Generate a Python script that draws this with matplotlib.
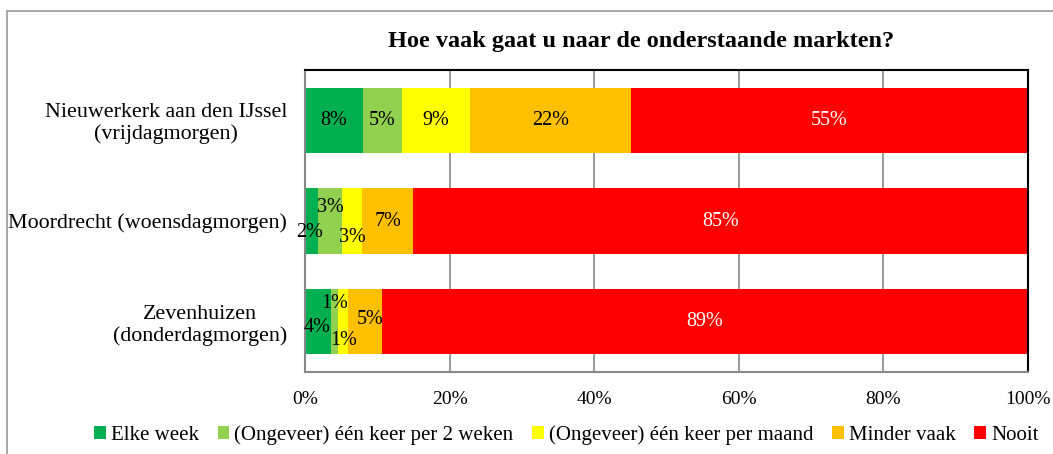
import matplotlib.pyplot as plt
from matplotlib.patches import Rectangle
from matplotlib.ticker import FuncFormatter

# data (percentages)
markets = ["Nieuwerkerk aan den IJssel\n(vrijdagmorgen)",
           "Moordrecht (woensdagmorgen)",
           "Zevenhuizen\n(donderdagmorgen)"]
series = ["Elke week", "(Ongeveer) één keer per 2 weken",
          "(Ongeveer) één keer per maand", "Minder vaak", "Nooit"]
elke_week = [8.0, 1.8, 3.6]
per_2_weken = [5.4, 3.3, 1.0]
per_maand = [9.4, 2.8, 1.4]
minder_vaak = [22.3, 7.1, 4.6]
nooit = [54.9, 85.0, 89.4]
values = [elke_week, per_2_weken, per_maand, minder_vaak, nooit]

colors = ["#00b050", "#92d050", "#ffff00", "#ffc000", "#ff0000"]
text_colors = ["black", "black", "black", "black", "white"]
# manual shifts of the small labels (dx in %, dy in bar units), like in the original
label_shift = {(1, 0): (-0.3, 0.11), (1, 1): (0, -0.13), (1, 2): (0, 0.16),
               (2, 0): (-0.2, 0.06), (2, 1): (0, -0.18), (2, 2): (0, 0.19),
               (2, 3): (0.7, -0.02)}

serif = ['Liberation Serif', 'DejaVu Serif']
plt.rcParams['font.family'] = serif

fig = plt.figure(figsize=(10.53, 4.54), dpi=100)
ax = fig.add_axes([305 / 1053, 1 - 372 / 454, 723 / 1053, 302 / 454])

y = list(range(len(markets)))
left = [0.0] * len(markets)
for s, vals in enumerate(values):
    ax.barh(y, vals, left=left, height=0.65, color=colors[s], label=series[s], zorder=2)
    for i, v in enumerate(vals):
        dx, dy = label_shift.get((i, s), (0, 0))
        ax.text(left[i] + v / 2 + dx, i + dy, "%.0f%%" % v, ha='center', va='center',
                fontsize=14.5, color=text_colors[s], zorder=3)
    left = [l + v for l, v in zip(left, vals)]

ax.set_xlim(0, 100)
ax.set_ylim(2.5, -0.5)
ax.set_xticks([0, 20, 40, 60, 80, 100])
ax.xaxis.set_major_formatter(FuncFormatter(lambda x, p: "%d%%" % x))
ax.set_yticks(y)
ax.set_yticklabels(markets, fontsize=15.8, multialignment='center', linespacing=1.15)
ax.tick_params(axis='x', length=0, labelsize=14, pad=14)
ax.tick_params(axis='y', length=0, pad=13)
ax.grid(axis='x', color='#888888', linewidth=1.2, zorder=0)
for side in ['top', 'right']:
    ax.spines[side].set_color('black')
    ax.spines[side].set_linewidth(1.5)
for side in ['left', 'bottom']:
    ax.spines[side].set_color('#888888')
    ax.spines[side].set_linewidth(1.5)

fig.text(641 / 1053, 1 - 42 / 454, "Hoe vaak gaat u naar de onderstaande markten?",
         ha='center', va='center', fontsize=17.5, fontweight='bold')

fig.legend(loc='center left', bbox_to_anchor=(86 / 1053, 1 - 435 / 454), ncol=5,
           frameon=False, prop={'family': serif, 'size': 15},
           handlelength=0.55, handleheight=0.55, handletextpad=0.25,
           columnspacing=0.9, borderaxespad=0)

# outer chart border
fig.patches.append(Rectangle((7 / 1053, -0.1), 1.2, 1 - 11 / 454 + 0.1,
                             transform=fig.transFigure, fill=False,
                             edgecolor='#999999', linewidth=1.2))

fig.savefig("out.png", dpi=100)
